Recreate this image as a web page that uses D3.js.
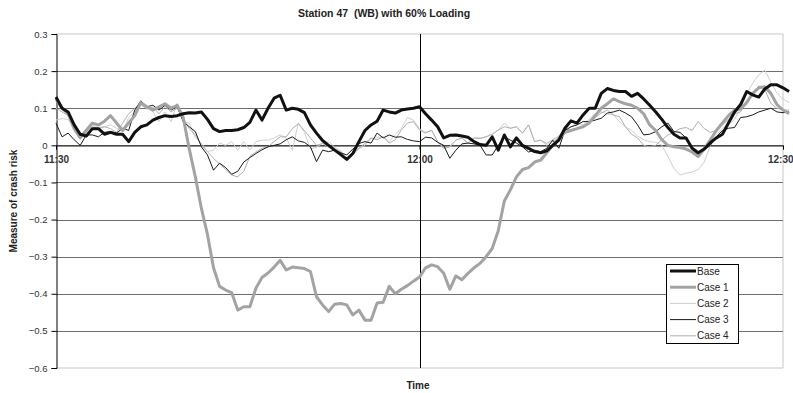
<!DOCTYPE html>
<html><head><meta charset="utf-8">
<script src="https://cdn.jsdelivr.net/npm/d3@7"></script>
<style>body{margin:0;background:#fff}svg{display:block;font-family:"Liberation Sans",Arial,sans-serif}</style>
</head><body><svg id="c" width="793" height="393"></svg>
<script>
// minutes after 11:30, every 30 s
const times = d3.range(122).map(i => i * 0.5);
const tickMinutes = [0, 30, 60];
const tickLabels = ["11:30", "12:00", "12:30"];
const yTicks = [0.3, 0.2, 0.1, 0, -0.1, -0.2, -0.3, -0.4, -0.5, -0.6];
const seriesNames = ["Base", "Case 1", "Case 2", "Case 3", "Case 4"];

const base = [0.13,0.10,0.09,0.055,0.03,0.025,0.045,0.045,0.03,0.035,
0.03,0.03,0.01,0.035,0.05,0.055,0.068,0.075,0.08,0.078,
0.08,0.085,0.088,0.087,0.09,0.07,0.045,0.037,0.04,0.04,
0.042,0.048,0.062,0.095,0.068,0.10,0.127,0.135,0.095,0.10,
0.097,0.088,0.055,0.033,0.013,0.0,-0.013,-0.025,-0.038,-0.022,
0.01,0.04,0.055,0.065,0.095,0.09,0.087,0.095,0.098,0.10,
0.104,0.085,0.068,0.05,0.02,0.027,0.028,0.025,0.022,0.01,
0.002,0.0,0.023,-0.013,0.028,-0.004,0.02,0.0,-0.008,-0.017,
-0.02,-0.015,0.0,0.014,0.046,0.066,0.06,0.082,0.10,0.10,
0.14,0.153,0.148,0.145,0.145,0.132,0.14,0.125,0.108,0.09,
0.07,0.048,0.03,0.02,0.02,-0.008,-0.02,-0.01,0.007,0.02,
0.03,0.06,0.09,0.11,0.145,0.136,0.13,0.152,0.163,0.163,
0.155,0.145];

const case1 = [0.125,0.10,0.085,0.045,0.02,0.04,0.06,0.055,0.065,0.08,
0.06,0.04,0.06,0.08,0.115,0.104,0.095,0.104,0.112,0.10,
0.108,0.075,-0.01,-0.085,-0.17,-0.24,-0.33,-0.38,-0.39,-0.397,
-0.444,-0.435,-0.435,-0.385,-0.356,-0.344,-0.328,-0.31,-0.336,-0.328,
-0.33,-0.332,-0.34,-0.408,-0.43,-0.448,-0.428,-0.426,-0.43,-0.457,
-0.444,-0.471,-0.471,-0.425,-0.423,-0.38,-0.40,-0.388,-0.378,-0.366,
-0.355,-0.33,-0.322,-0.327,-0.345,-0.388,-0.352,-0.362,-0.345,-0.33,
-0.318,-0.30,-0.278,-0.23,-0.15,-0.12,-0.085,-0.065,-0.06,-0.045,
-0.04,-0.02,0.0,0.018,0.035,0.04,0.045,0.05,0.06,0.08,
0.10,0.112,0.125,0.118,0.112,0.108,0.10,0.085,0.055,0.04,
0.015,0.0,-0.004,-0.006,-0.01,-0.018,-0.03,-0.01,0.015,0.04,
0.06,0.08,0.095,0.098,0.115,0.14,0.155,0.158,0.14,0.11,
0.095,0.085];

const case2 = [0.068,0.072,0.07,0.045,0.028,0.045,0.055,0.048,0.05,0.055,
0.046,0.037,0.075,0.09,0.113,0.104,0.09,0.064,0.09,0.064,
0.113,0.064,0.06,0.02,0.006,-0.017,-0.013,0.006,0.0,0.01,
-0.013,0.01,-0.013,0.01,0.014,0.014,0.02,0.028,0.02,-0.013,
0.06,0.035,-0.01,-0.005,0.005,0.01,-0.005,-0.015,-0.035,-0.025,
-0.01,0.0,0.018,0.02,0.023,0.01,0.03,0.045,0.075,0.068,
0.045,0.035,0.04,0.01,-0.008,-0.004,0.014,0.02,0.006,0.02,
0.02,0.023,0.03,0.041,0.06,0.046,0.05,0.033,0.055,0.01,
0.014,0.0,0.01,0.02,0.035,0.05,0.06,0.055,0.07,0.085,
0.09,0.085,0.082,0.064,0.05,0.04,0.025,0.015,0.01,0.008,
0.0,-0.03,-0.062,-0.08,-0.075,-0.072,-0.065,-0.045,0.0,0.028,
0.046,0.055,0.07,0.10,0.14,0.167,0.19,0.203,0.17,0.14,
0.125,0.115];

const case3 = [0.06,0.023,0.033,0.015,0.0,0.028,0.028,0.023,0.035,0.037,
0.033,0.046,0.04,0.095,0.12,0.104,0.108,0.095,0.108,0.095,
0.104,0.064,0.05,0.037,-0.004,-0.026,-0.067,-0.048,-0.06,-0.078,
-0.07,-0.045,-0.033,-0.022,-0.012,-0.004,0.0,0.004,0.015,0.023,
0.012,0.008,-0.004,-0.044,-0.013,-0.017,-0.013,-0.02,-0.026,-0.01,
0.005,0.01,0.006,0.033,0.02,0.028,0.022,0.023,0.016,0.012,
0.01,0.022,0.02,0.008,0.0,-0.035,-0.013,0.004,0.006,0.004,
0.0,-0.026,-0.026,0.0,0.023,0.014,0.006,-0.004,-0.018,-0.013,
-0.017,-0.008,0.014,-0.008,0.04,0.05,0.055,0.064,0.064,0.068,
0.073,0.087,0.09,0.095,0.087,0.077,0.055,0.028,0.03,0.037,
0.05,0.06,0.037,0.035,0.02,-0.008,-0.026,-0.013,0.0,0.023,
0.04,0.046,0.048,0.075,0.077,0.082,0.09,0.095,0.10,0.09,
0.088,0.09];

const case4 = [0.10,0.09,0.08,0.05,0.02,0.04,0.05,0.045,0.05,0.045,
0.035,0.06,0.085,0.10,0.11,0.098,0.103,0.085,0.105,0.09,
0.10,0.07,0.045,0.028,0.0,-0.017,-0.035,-0.05,-0.065,-0.08,
-0.085,-0.07,-0.03,-0.018,-0.008,-0.004,0.01,0.023,0.023,0.045,
0.058,0.04,0.02,0.0,0.005,-0.005,-0.01,-0.017,-0.04,-0.02,
-0.008,0.005,0.02,0.015,0.023,0.006,0.015,0.041,0.06,0.064,
0.041,0.033,0.041,0.01,-0.008,-0.004,0.014,0.02,0.006,0.02,
0.018,0.023,0.03,0.041,0.05,0.046,0.05,0.033,0.055,0.01,
0.014,0.005,0.015,0.025,0.045,0.04,0.045,0.05,0.06,0.075,
0.087,0.095,0.082,0.077,0.05,0.03,0.02,0.0,-0.004,0.0,
0.015,0.028,0.035,0.045,0.048,0.04,0.064,0.045,0.035,0.04,
0.055,0.07,0.085,0.09,0.12,0.136,0.16,0.15,0.113,0.10,
0.095,0.095];

const seriesValues = [base, case1, case2, case3, case4];
const seriesColor = ["#111111", "#a3a3a3", "#cfcfcf", "#1a1a1a", "#b0b0b0"];
const seriesWidth = [3, 3, 1, 1, 1];

const svg = d3.select("#c");
const L = 56, R = 783, T = 34, B = 368;
const x = d3.scaleLinear().domain([0, 60]).range([L, R]);
const y = d3.scaleLinear().domain([-0.6, 0.3]).range([B, T]);

// title
svg.append("text").attr("x", 384).attr("y", 17).attr("text-anchor", "middle")
  .attr("font-size", 10.5).attr("font-weight", "bold").attr("fill", "#222")
  .style("white-space", "pre")
  .text("Station 47  (WB) with 60% Loading");

// plot border (light)
svg.append("line").attr("x1", L).attr("x2", R).attr("y1", T).attr("y2", T).attr("stroke", "#c8c8c8");
svg.append("line").attr("x1", L).attr("x2", R).attr("y1", B).attr("y2", B).attr("stroke", "#c8c8c8");
svg.append("line").attr("x1", R).attr("x2", R).attr("y1", T).attr("y2", B).attr("stroke", "#c8c8c8");

// horizontal grid
svg.append("g").selectAll("line").data(yTicks.filter(v => v < 0.29 && v > -0.59)).join("line")
  .attr("x1", L).attr("x2", R)
  .attr("y1", d => Math.round(y(d)) + 0.5).attr("y2", d => Math.round(y(d)) + 0.5)
  .attr("stroke", "#6e6e6e").attr("stroke-width", 1.2);

// y axis
const yAxis = d3.axisLeft(y).tickValues(yTicks).tickSize(5).tickPadding(4)
  .tickFormat(d => d === 0 ? "0" : d3.format(".1f")(d).replace("-", "\u2212"));
const gy = svg.append("g").attr("transform", `translate(${L + 0.5},0)`).call(yAxis);
gy.select(".domain").attr("stroke", "#000");
gy.selectAll(".tick line").attr("stroke", "#000");
gy.selectAll(".tick text").attr("font-size", 9.5).attr("fill", "#333").attr("font-family", "Liberation Sans, Arial, sans-serif");

// 12:00 vertical line
svg.append("line").attr("x1", Math.round(x(30)) + 0.5).attr("x2", Math.round(x(30)) + 0.5)
  .attr("y1", T).attr("y2", B).attr("stroke", "#000").attr("stroke-width", 1);

// x axis at zero
const xAxis = d3.axisBottom(x).tickValues(tickMinutes).tickSize(4).tickFormat((d, i) => tickLabels[i]);
const gx = svg.append("g").attr("transform", `translate(0,${Math.round(y(0)) + 0.5})`).call(xAxis);
gx.select(".domain").attr("stroke", "#222");
gx.selectAll(".tick line").attr("stroke", "#000");
gx.selectAll(".tick text").attr("font-size", 10).attr("font-weight", "bold").attr("fill", "#333")
  .attr("dy", "1.05em").attr("font-family", "Liberation Sans, Arial, sans-serif")
  .attr("text-anchor", (d, i) => i === 2 ? "end" : "middle")
  .attr("dx", (d, i) => i === 2 ? 10 : 0);

// lines
const line = d3.line().x((d, i) => x(times[i])).y(d => y(d));
const order = [2, 4, 3, 1, 0];
order.forEach(k => {
  svg.append("path").datum(seriesValues[k]).attr("d", line)
    .attr("fill", "none").attr("stroke", seriesColor[k]).attr("stroke-width", seriesWidth[k])
    .attr("stroke-linejoin", "round");
});

// axis titles
svg.append("text").attr("transform", "translate(17,201) rotate(-90)").attr("text-anchor", "middle")
  .attr("font-size", 10).attr("font-weight", "bold").attr("fill", "#222").text("Measure of crash risk");
svg.append("text").attr("x", 418).attr("y", 389).attr("text-anchor", "middle")
  .attr("font-size", 10).attr("font-weight", "bold").attr("fill", "#222").text("Time");

// legend
const lg = svg.append("g");
lg.append("rect").attr("x", 666.5).attr("y", 264.5).attr("width", 72).attr("height", 79)
  .attr("fill", "#fff").attr("stroke", "#000").attr("stroke-width", 1);
seriesNames.forEach((n, k) => {
  const yy = 271 + k * 16.2;
  lg.append("line").attr("x1", 670).attr("x2", 696).attr("y1", yy).attr("y2", yy)
    .attr("stroke", seriesColor[k]).attr("stroke-width", seriesWidth[k]);
  lg.append("text").attr("x", 697).attr("y", yy + 3.5).attr("font-size", 10).attr("fill", "#222").text(n);
});
</script></body></html>
